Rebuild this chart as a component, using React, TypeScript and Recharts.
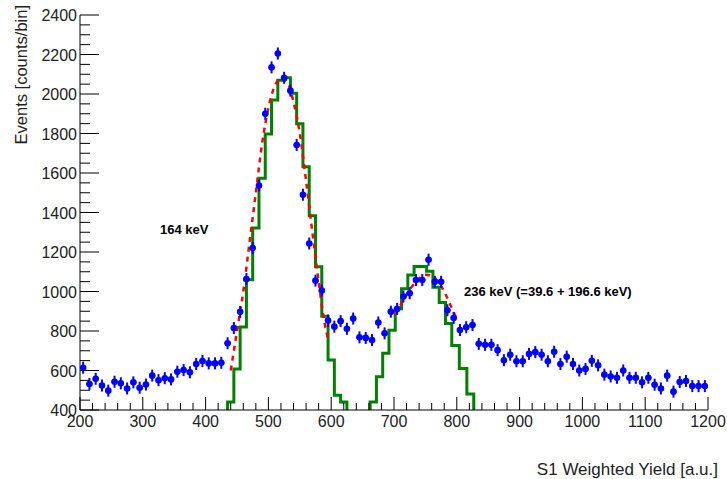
import React from "react";
import { ComposedChart, Line, Scatter, XAxis, YAxis, Customized } from "recharts";

const dataX: number[] = Array.from({ length: 100 }, (_, i) => 205 + 10 * i);
const dataY: number[] = [614,532,558,524,498,543,535,509,540,513,529,574,551,561,555,594,602,591,633,648,636,636,639,738,815,897,1063,1220,
1537,1900,2135,2205,2082,2017,1742,1490,1243,
1055,1005,853,822,850,811,863,768,765,754,843,788,898,912,975,991,1058,1058,1161,1049,
1049,905,866,805,819,830,735,730,730,703,652,680,647,647,684,693,680,647,695,633,
670,633,600,608,649,626,579,570,563,600,563,563,540,563,528,509,574,493,542,547,521,521,521];

const hist1Edges: number[] = [435,435,445,455,465,475,485,495,505,515,525,535,545,555,565,575,585,595,605,615,625,625];
const hist1Vals: number[] = [400,440,608,820,1060,1321,1573,1798,1969,2070,2082,2004,1849,1632,1383,1125,875,653,475,440,440,400];
const hist2Edges: number[] = [662,662,672,682,692,702,712,722,732,742,752,762,772,782,792,804,816,827,827];
const hist2Vals: number[] = [400,440,568,687,804,913,1014,1084,1127,1127,1102,1021,944,838,726,610,481,481,400];

const fit1X: number[] = [440,450,460,470,480,490,500,510,520,530,540,550,560,570,580,590,595];
const fit1Y: number[] = [600,800,1000,1250,1500,1750,1930,2040,2080,2060,1960,1800,1560,1300,1050,830,760];
const fit2X: number[] = [700,710,720,730,740,750,760,770,780,790,800];
const fit2Y: number[] = [890,930,985,1030,1065,1085,1080,1050,1000,930,860];

const xTicks: number[] = Array.from({ length: 51 }, (_, i) => 200 + 20 * i);
const yTicks: number[] = Array.from({ length: 41 }, (_, i) => 400 + 50 * i);

const points = dataX.map((x, i) => ({ x, y: dataY[i] }));
const hist1 = hist1Edges.map((x, i) => ({ x, y: hist1Vals[i] }));
const hist2 = hist2Edges.map((x, i) => ({ x, y: hist2Vals[i] }));
const fit1 = fit1X.map((x, i) => ({ x, y: fit1Y[i] }));
const fit2 = fit2X.map((x, i) => ({ x, y: fit2Y[i] }));

const FONT = "Liberation Sans, Arial, sans-serif";

const XTick = (p: any) => {
  const v = p.payload.value;
  const major = v % 100 === 0;
  return (
    <g>
      <line x1={p.x} x2={p.x} y1={p.y} y2={p.y - (major ? 13 : 7)} stroke="#000" strokeWidth={1} />
      {major && (
        <text x={p.x} y={p.y + 17} textAnchor="middle" fontSize={16} fontFamily={FONT} fill="#222">{v}</text>
      )}
    </g>
  );
};
const YTick = (p: any) => {
  const v = p.payload.value;
  const major = v % 200 === 0;
  return (
    <g>
      <line x1={p.x} x2={p.x + (major ? 19 : 10)} y1={p.y} y2={p.y} stroke="#000" strokeWidth={1} />
      {major && (
        <text x={p.x - 3} y={p.y + 6} textAnchor="end" fontSize={16} fontFamily={FONT} fill="#222">{v}</text>
      )}
    </g>
  );
};

const Marker = (p: any) => {
  const { cx, cy } = p;
  if (cx == null || cy == null) return null;
  return (
    <g>
      <line x1={cx} x2={cx} y1={cy - 6} y2={cy + 6} stroke="#0000ff" strokeWidth={2} />
      <line x1={cx - 3} x2={cx + 3} y1={cy} y2={cy} stroke="#0000ff" strokeWidth={2} />
      <circle cx={cx} cy={cy} r={3.3} fill="#0000ff" />
    </g>
  );
};

const Frame = (p: any) => {
  const { offset } = p;
  if (!offset) return null;
  return (
    <rect x={offset.left} y={offset.top} width={offset.width} height={offset.height} fill="none" stroke="#000" strokeWidth={1} />
  );
};

export default function App() {
  return (
    <div style={{ position: "absolute", left: 0, top: 0, width: 727, height: 479, background: "#fff", overflow: "hidden" }}>
      <ComposedChart width={727} height={479} margin={{ top: 15, right: 19, bottom: 39, left: 0 }}>
        <XAxis dataKey="x" type="number" domain={[200, 1200]} ticks={xTicks} interval={0}
          tick={<XTick />} tickLine={false} tickSize={0} tickMargin={0} axisLine={{ stroke: "#000" }} allowDataOverflow />
        <YAxis dataKey="y" type="number" domain={[400, 2400]} ticks={yTicks} interval={0} width={80}
          tick={<YTick />} tickLine={false} tickSize={0} tickMargin={0} axisLine={{ stroke: "#000" }} allowDataOverflow />
        <Customized component={Frame} />
        <Line data={hist1} dataKey="y" type="stepAfter" stroke="#008000" strokeWidth={3} dot={false} isAnimationActive={false} />
        <Line data={hist2} dataKey="y" type="stepAfter" stroke="#008000" strokeWidth={3} dot={false} isAnimationActive={false} />
        <Line data={fit1} dataKey="y" type="monotone" stroke="#ff0000" strokeWidth={2.5} strokeDasharray="5 5" dot={false} isAnimationActive={false} />
        <Line data={fit2} dataKey="y" type="monotone" stroke="#ff0000" strokeWidth={2.5} strokeDasharray="5 5" dot={false} isAnimationActive={false} />
        <Scatter data={points} dataKey="y" shape={<Marker />} isAnimationActive={false} />
      </ComposedChart>
      <div style={{ position: "absolute", left: 160, top: 222, fontFamily: FONT, fontWeight: "bold", fontSize: 13 }}>164 keV</div>
      <div style={{ position: "absolute", left: 464, top: 284, fontFamily: FONT, fontWeight: "bold", fontSize: 13 }}>236 keV (=39.6 + 196.6 keV)</div>
      <div style={{ position: "absolute", right: 9, top: 460, fontFamily: FONT, fontSize: 17, color: "#222", whiteSpace: "nowrap" }}>S1 Weighted Yield [a.u.]</div>
      <svg style={{ position: "absolute", left: 0, top: 0 }} width={60} height={200}>
        <text transform="translate(27,5) rotate(-90)" textAnchor="end" fontSize={16.5} fontFamily={FONT} fill="#222">Events [counts/bin]</text>
      </svg>
    </div>
  );
}
